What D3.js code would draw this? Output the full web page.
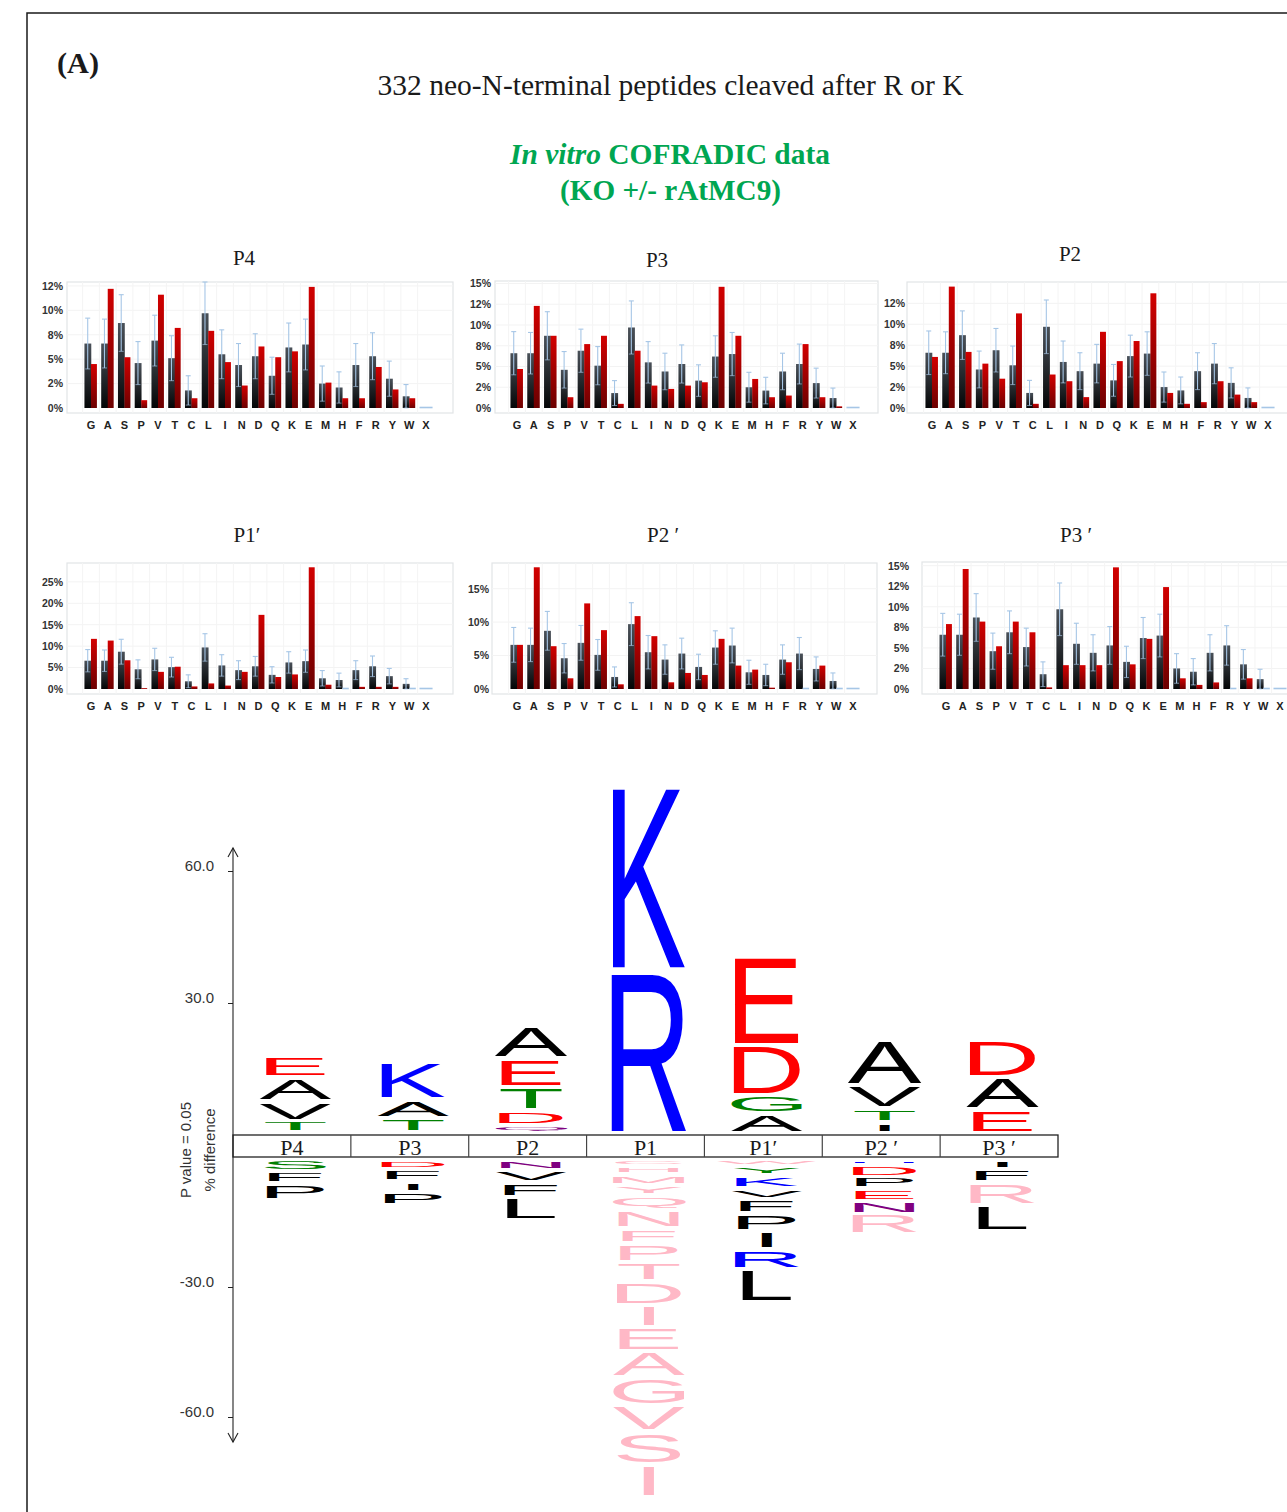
<!DOCTYPE html>
<html>
<head>
<meta charset="utf-8">
<script src="https://cdn.jsdelivr.net/npm/d3@7"></script>
<style>
  body { margin: 0; background: #fff; }
  svg { display: block; }
</style>
</head>
<body>
<svg id="fig" width="1287" height="1512"></svg>
<script>
// ---------------- data ----------------
const residues = ["G","A","S","P","V","T","C","L","I","N","D","Q","K","E","M","H","F","R","Y","W","X"];

// reference (KO) amino-acid frequency, % and its standard deviation
const refFreq = [6.6, 6.6, 8.7, 4.6, 6.9, 5.1, 1.8, 9.7, 5.5, 4.4, 5.3, 3.3, 6.2, 6.5, 2.5, 2.1, 4.4, 5.3, 3.0, 1.2, 0];
const refSd   = [2.6, 2.5, 2.9, 2.2, 2.6, 2.3, 1.5, 3.2, 2.5, 2.2, 2.3, 1.9, 2.5, 2.6, 1.8, 1.6, 2.2, 2.4, 1.8, 1.2, 0];

// frequencies at each position of the 332 cleaved peptides, %
const freqP4  = [4.5, 12.2, 5.2, 0.8, 11.6, 8.2, 1.0, 7.9, 4.7, 2.3, 6.3, 5.2, 5.8, 12.4, 2.6, 1.0, 1.0, 4.2, 1.9, 1.0, 0];
const freqP3  = [4.7, 12.3, 8.7, 1.3, 7.7, 8.7, 0.5, 6.9, 2.7, 2.3, 2.7, 3.1, 14.6, 8.7, 3.5, 1.3, 1.5, 7.7, 1.3, 0.2, 0];
const freqP2  = [6.1, 14.5, 6.7, 5.3, 3.5, 11.3, 0.5, 4.0, 3.2, 1.3, 9.1, 5.6, 8.0, 13.7, 1.8, 0.5, 0.7, 3.2, 1.6, 0.7, 0];
const freqP1p = [11.7, 11.3, 6.7, 0.2, 4.0, 5.2, 0.6, 1.3, 0.8, 4.0, 17.3, 2.8, 3.4, 28.4, 1.0, 0, 0.5, 0.5, 0.5, 0, 0];
const freqP2p = [6.6, 18.2, 6.4, 1.6, 12.8, 8.8, 0.7, 10.9, 7.9, 1.0, 2.4, 2.1, 7.5, 3.5, 2.9, 0.2, 4.0, 0, 3.5, 0, 0];
const freqP3p = [7.9, 14.6, 8.2, 5.2, 8.2, 6.9, 0.2, 2.9, 2.9, 2.9, 14.8, 3.0, 6.1, 12.4, 1.3, 0.5, 0.8, 0, 1.3, 0, 0];

const panelNames = ["P4", "P3", "P2", "P1\u2032", "P2 \u2032", "P3 \u2032"];
const panelFreqs = [freqP4, freqP3, freqP2, freqP1p, freqP2p, freqP3p];
const panelTicks = [
  [0, 2.5, 5, 7.5, 10, 12.5],
  [0, 2.5, 5, 7.5, 10, 12.5, 15],
  [0, 2.5, 5, 7.5, 10, 12.5],
  [0, 5, 10, 15, 20, 25],
  [0, 5, 10, 15],
  [0, 2.5, 5, 7.5, 10, 12.5, 15]
];

// iceLogo: % difference of significant residues (P value = 0.05)
const logoPositions = ["P4", "P3", "P2", "P1", "P1\u2032", "P2 \u2032", "P3 \u2032"];
const logoTicks = [60, 30, -30, -60];
// enriched residues, from the baseline upward
const upLetters = [["T","V","A","E"], ["T","A","K"], ["Q","D","T","E","A"], ["R","K"], ["A","G","D","E"], ["I","T","V","A"], ["E","A","D"]];
const upValues  = [[2.7, 4.5, 5.5, 4.8], [3.3, 4.3, 8.6], [1.8, 3.3, 5.3, 6.5, 7.4], [37.1, 41.5], [4.4, 4.2, 11.4, 20.2], [2.3, 3.2, 5.4, 10.4], [5.3, 7.4, 8.5]];
// depleted residues, from the baseline downward
const downLetters = [["S","F","P"], ["D","F","I","P"], ["N","V","F","L"],
  ["C","H","M","Y","Q","N","F","P","T","D","I","E","A","G","V","S","I"],
  ["W","Y","K","V","F","P","I","R","L"], ["H","D","P","E","N","R"], ["I","F","R","L"]];
const downValues = [[2.8, 2.8, 3.8], [2.3, 2.7, 2.6, 3.0], [2.6, 2.7, 3.4, 5.3],
  [1.6, 1.8, 2.6, 2.4, 3.4, 4.2, 3.4, 4.4, 4.5, 5.3, 5.1, 5.7, 5.9, 6.5, 6.0, 7.6, 7.6],
  [1.6, 2.1, 2.9, 2.6, 3.3, 4.0, 4.3, 4.5, 7.8], [1.4, 2.7, 2.7, 2.8, 3.0, 4.8], [2.2, 3.2, 5.1, 6.1]];
// residues never observed at that position in the cleaved set
const absentLetters = [[], [], [], ["C","H","M","Y","Q","N","F","P","T","D","I","E","A","G","V","S","L"], ["W"], ["R"], ["R"]];

// ---------------- layout ----------------
const SERIF = "'Liberation Serif', 'Times New Roman', serif";
const SANS = "'Liberation Sans', Arial, Helvetica, sans-serif";

const panelLayout = [
  { x0: 67,  x1: 453,  top: 282, y0: 408, max: 12.9,  labelX: 63,  bx: [82.6, 434.4],   labelY: 421, tx: 244,  ty: 265 },
  { x0: 495, x1: 878,  top: 281, y0: 408, max: 15.3,  labelX: 491, bx: [508.6, 861.4],  labelY: 421, tx: 657,  ty: 267 },
  { x0: 907, x1: 1300, top: 282, y0: 408, max: 15.05, labelX: 905, bx: [923.6, 1276.4], labelY: 421, tx: 1070, ty: 261 },
  { x0: 67,  x1: 453,  top: 563, y0: 689, max: 29.4,  labelX: 63,  bx: [82.6, 434.4],   labelY: 702, tx: 247,  ty: 542 },
  { x0: 492, x1: 877,  top: 563, y0: 689, max: 18.84, labelX: 489, bx: [508.6, 861.4],  labelY: 702, tx: 663,  ty: 542 },
  { x0: 922, x1: 1300, top: 562, y0: 689, max: 15.45, labelX: 909, bx: [937.65, 1288.35], labelY: 702, tx: 1076, ty: 542 }
];

const svg = d3.select("#fig");
const defs = svg.append("defs");

function vGrad(id, top, bottom) {
  const g = defs.append("linearGradient").attr("id", id)
    .attr("x1", 0).attr("x2", 0).attr("y1", 0).attr("y2", 1);
  g.append("stop").attr("offset", "0%").attr("stop-color", top);
  g.append("stop").attr("offset", "100%").attr("stop-color", bottom);
}
vGrad("gRef", "#4a5159", "#040506");
vGrad("gExp", "#d20000", "#6c0000");

// outer frame
svg.append("path").attr("d", "M27,1512V13H1287")
  .attr("fill", "none").attr("stroke", "#1a1a1a").attr("stroke-width", 1.5);

// headings
svg.append("text").attr("x", 57).attr("y", 73)
  .attr("font-family", SERIF).attr("font-weight", "bold").attr("font-size", 29)
  .attr("fill", "#1a1a1a").attr("textLength", 42).attr("lengthAdjust", "spacingAndGlyphs")
  .text("(A)");

svg.append("text").attr("x", 670.5).attr("y", 95).attr("text-anchor", "middle")
  .attr("font-family", SERIF).attr("font-size", 29).attr("fill", "#1a1a1a")
  .attr("textLength", 586).attr("lengthAdjust", "spacingAndGlyphs")
  .text("332 neo-N-terminal peptides cleaved after R or K");

const green = "#00a651";
const h1 = svg.append("text").attr("x", 670).attr("y", 164).attr("text-anchor", "middle")
  .attr("font-family", SERIF).attr("font-weight", "bold").attr("font-size", 29).attr("fill", green)
  .attr("textLength", 320).attr("lengthAdjust", "spacingAndGlyphs");
h1.append("tspan").attr("font-style", "italic").text("In vitro");
h1.append("tspan").text(" COFRADIC data");
svg.append("text").attr("x", 670.5).attr("y", 200).attr("text-anchor", "middle")
  .attr("font-family", SERIF).attr("font-weight", "bold").attr("font-size", 29).attr("fill", green)
  .attr("textLength", 221).attr("lengthAdjust", "spacingAndGlyphs")
  .text("(KO +/- rAtMC9)");

// ---------------- bar panels ----------------
function fmtPct(v) {
  const f = Math.floor(v);
  const r = (v - f === 0.5) ? (f % 2 === 0 ? f : f + 1) : Math.round(v);
  return r + "%";
}

const errColor = "#a6c6e6";

panelLayout.forEach((p, i) => {
  const g = svg.append("g");
  const freq = panelFreqs[i];
  const y = d3.scaleLinear().domain([0, p.max]).range([p.y0, p.top]);
  const x = d3.scaleBand().domain(residues).range(p.bx).paddingInner(0.22).paddingOuter(0.11);
  const xs = d3.scaleBand().domain(["ref", "exp"]).range([0, x.bandwidth()]);

  // title
  svg.append("text").attr("x", p.tx).attr("y", p.ty).attr("text-anchor", "middle")
    .attr("font-family", SERIF).attr("font-size", 21).attr("fill", "#1a1a1a")
    .text(panelNames[i]);

  // plot area
  g.append("rect").attr("x", p.x0).attr("y", p.top)
    .attr("width", p.x1 - p.x0).attr("height", p.y0 + 5 - p.top)
    .attr("fill", "#fff").attr("stroke", "#e2e4e6").attr("stroke-width", 1.2);

  // faint grid
  g.append("g").selectAll("line").data(panelTicks[i].slice(1)).join("line")
    .attr("x1", p.x0).attr("x2", p.x1).attr("y1", d => y(d)).attr("y2", d => y(d))
    .attr("stroke", "#f3f3f3");
  g.append("g").selectAll("line").data(residues).join("line")
    .attr("x1", d => x(d) - x.step() * 0.11).attr("x2", d => x(d) - x.step() * 0.11)
    .attr("y1", p.top).attr("y2", p.y0 + 5).attr("stroke", "#f4f4f4");

  // y axis
  const ay = g.append("g").attr("transform", `translate(${p.labelX},0)`)
    .call(d3.axisLeft(y).tickValues(panelTicks[i]).tickSize(0).tickPadding(0).tickFormat(fmtPct));
  ay.select(".domain").remove();
  ay.selectAll("text").attr("font-family", SANS).attr("font-weight", "bold")
    .attr("font-size", 10.5).attr("fill", "#333");

  // x axis labels
  const ax = g.append("g").attr("transform", `translate(0,${p.labelY})`)
    .call(d3.axisBottom(x).tickSize(0).tickPadding(0));
  ax.select(".domain").remove();
  ax.selectAll("text").attr("font-family", SANS).attr("font-weight", "bold")
    .attr("font-size", 11).attr("fill", "#222");

  // bars
  const rows = residues.map((r, k) => ({ r, ref: refFreq[k], sd: refSd[k], exp: freq[k] }));
  const grp = g.append("g").selectAll("g").data(rows).join("g")
    .attr("transform", d => `translate(${x(d.r)},0)`);

  grp.filter(d => d.ref > 0).append("rect")
    .attr("x", xs("ref")).attr("width", xs.bandwidth() + 0.3)
    .attr("y", d => y(d.ref)).attr("height", d => y(0) - y(d.ref))
    .attr("fill", "url(#gRef)");
  grp.filter(d => d.exp > 0).append("rect")
    .attr("x", xs("exp")).attr("width", xs.bandwidth() - 0.6)
    .attr("y", d => y(d.exp)).attr("height", d => y(0) - y(d.exp))
    .attr("fill", "url(#gExp)");

  // zero-valued entries get a thin marker on the baseline
  grp.filter(d => d.ref === 0).append("line")
    .attr("x1", xs("ref")).attr("x2", xs("ref") + xs.bandwidth())
    .attr("y1", y(0) - 0.5).attr("y2", y(0) - 0.5)
    .attr("stroke", errColor).attr("stroke-width", 1.6);
  grp.filter(d => d.exp === 0).append("line")
    .attr("x1", xs("exp")).attr("x2", xs("exp") + xs.bandwidth())
    .attr("y1", y(0) - 0.5).attr("y2", y(0) - 0.5)
    .attr("stroke", errColor).attr("stroke-width", 1.6);

  // error bars on the reference series
  const eb = grp.filter(d => d.sd > 0).append("g")
    .attr("transform", `translate(${xs("ref") + xs.bandwidth() / 2},0)`);
  eb.append("line").attr("x1", 0).attr("x2", 0)
    .attr("y1", d => y(d.ref + d.sd)).attr("y2", d => y(Math.max(0, d.ref - d.sd)))
    .attr("stroke", errColor).attr("stroke-width", 1.1);
  eb.append("line").attr("x1", -2.5).attr("x2", 2.5)
    .attr("y1", d => y(d.ref + d.sd)).attr("y2", d => y(d.ref + d.sd))
    .attr("stroke", errColor).attr("stroke-width", 1.1);
  eb.append("line").attr("x1", -2.5).attr("x2", 2.5)
    .attr("y1", d => y(Math.max(0, d.ref - d.sd))).attr("y2", d => y(Math.max(0, d.ref - d.sd)))
    .attr("stroke", errColor).attr("stroke-opacity", 0.6).attr("stroke-width", 1.1);
});

// ---------------- iceLogo ----------------
const boxTop = 1135, boxBottom = 1157, axisX = 233;
const cell = d3.scaleBand().domain(logoPositions).range([axisX, 1058]);
const yUp = d3.scaleLinear().domain([0, 60]).range([boxTop, boxTop - 264]);
const yDown = d3.scaleLinear().domain([0, -60]).range([boxBottom, boxBottom + 260]);

function residueColor(ch) {
  if ("DE".includes(ch)) return "#ff0000";
  if ("KRH".includes(ch)) return "#0000ff";
  if ("GSTYC".includes(ch)) return "#008000";
  if ("NQ".includes(ch)) return "#800080";
  return "#000000";
}
const absentColor = "#ffb8c6";

const ctx = document.createElement("canvas").getContext("2d");
ctx.font = "100px 'Liberation Sans'";
const glyphCache = {};
function glyphBox(ch) {
  if (!glyphCache[ch]) {
    const m = ctx.measureText(ch);
    glyphCache[ch] = { l: m.actualBoundingBoxLeft, r: m.actualBoundingBoxRight,
      a: m.actualBoundingBoxAscent, d: m.actualBoundingBoxDescent };
  }
  return glyphCache[ch];
}

const logo = svg.append("g");
const GAP = 4.5;

function drawGlyph(ch, cx, inkTop, inkBot, color) {
  const b = glyphBox(ch);
  const h = Math.max(0.8, inkBot - inkTop);
  const sx = 1.05 + 0.2 * Math.min(1, h / 150);
  const sy = h / (b.a + b.d);
  logo.append("text").text(ch)
    .attr("font-family", "'Liberation Sans'").attr("font-size", 100)
    .attr("x", (b.l - b.r) / 2).attr("y", -b.d)
    .attr("transform", `translate(${cx},${inkBot}) scale(${sx},${sy})`)
    .attr("fill", color);
}

logoPositions.forEach((pos, i) => {
  const cx = cell(pos) + cell.bandwidth() / 2 + 3.5;
  let acc = 0;
  upLetters[i].forEach((ch, j) => {
    const v = upValues[i][j];
    const yb = yUp(acc), yt = yUp(acc + v);
    acc += v;
    const col = absentLetters[i].includes(ch) ? absentColor : residueColor(ch);
    drawGlyph(ch, cx, yt, Math.max(yt + 0.8, yb - GAP), col);
  });
  acc = 0;
  downLetters[i].forEach((ch, j) => {
    const v = downValues[i][j];
    const yt = yDown(-acc), yb = yDown(-(acc + v));
    acc += v;
    const col = (absentLetters[i].includes(ch) || i === 3) ? absentColor : residueColor(ch);
    drawGlyph(ch, cx, Math.min(yt + GAP, yb - 0.8), yb, col);
  });
});

// position box
const boxG = svg.append("g");
boxG.append("rect").attr("x", axisX).attr("y", boxTop)
  .attr("width", 1058 - axisX).attr("height", boxBottom - boxTop)
  .attr("fill", "#fff").attr("stroke", "#222").attr("stroke-width", 1.3);
boxG.selectAll("line.div").data(logoPositions.slice(1)).join("line").attr("class", "div")
  .attr("x1", d => cell(d)).attr("x2", d => cell(d))
  .attr("y1", boxTop).attr("y2", boxBottom).attr("stroke", "#444").attr("stroke-width", 1.2);
boxG.selectAll("text").data(logoPositions).join("text")
  .attr("x", d => cell(d) + cell.bandwidth() / 2).attr("y", boxBottom - 2)
  .attr("text-anchor", "middle").attr("font-family", SERIF).attr("font-size", 22)
  .attr("fill", "#1a1a1a").text(d => d);

// logo axis
const axG = svg.append("g");
axG.append("line").attr("x1", axisX).attr("x2", axisX).attr("y1", 848).attr("y2", 1442)
  .attr("stroke", "#222").attr("stroke-width", 1.1);
axG.append("path").attr("d", `M${axisX - 5},857L${axisX},848L${axisX + 5},857`)
  .attr("fill", "none").attr("stroke", "#222").attr("stroke-width", 1.1);
axG.append("path").attr("d", `M${axisX - 5},1433L${axisX},1442L${axisX + 5},1433`)
  .attr("fill", "none").attr("stroke", "#222").attr("stroke-width", 1.1);

const fmtLogo = v => v.toFixed(1);
function styleLogoAxis(sel) {
  sel.select(".domain").remove();
  sel.selectAll("line").attr("stroke", "#222");
  sel.selectAll("text").attr("font-family", SANS).attr("font-size", 15)
    .attr("fill", "#333").attr("dy", "-0.02em").attr("x", -19);
}
axG.append("g").attr("transform", `translate(${axisX},0)`)
  .call(d3.axisLeft(yUp).tickValues(logoTicks.filter(t => t > 0)).tickSize(5).tickFormat(fmtLogo))
  .call(styleLogoAxis);
axG.append("g").attr("transform", `translate(${axisX},0)`)
  .call(d3.axisLeft(yDown).tickValues(logoTicks.filter(t => t < 0)).tickSize(5).tickFormat(fmtLogo))
  .call(styleLogoAxis);

axG.append("text").attr("transform", "translate(191,1150) rotate(-90)")
  .attr("text-anchor", "middle").attr("font-family", SANS).attr("font-size", 15).attr("fill", "#333")
  .text("P value = 0.05");
axG.append("text").attr("transform", "translate(215,1150) rotate(-90)")
  .attr("text-anchor", "middle").attr("font-family", SANS).attr("font-size", 15).attr("fill", "#333")
  .text("% difference");
</script>
</body>
</html>
